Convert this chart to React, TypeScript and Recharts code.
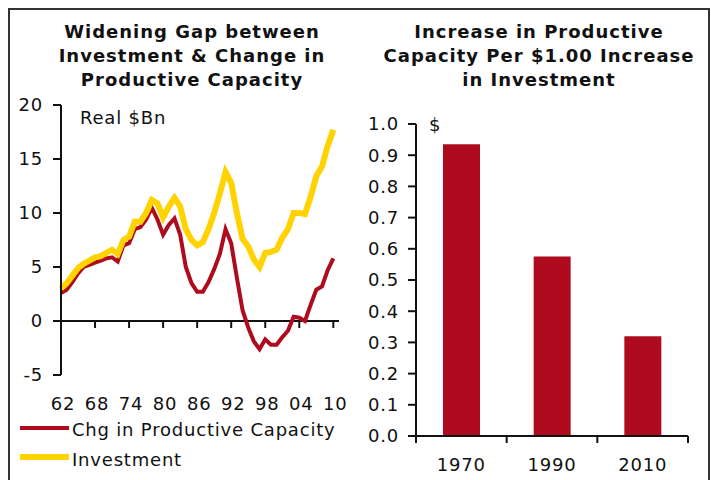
import React from "react";
import {
  LineChart,
  Line,
  BarChart,
  Bar,
  XAxis,
  YAxis,
  ReferenceLine,
} from "recharts";

const years = [
  1962, 1963, 1964, 1965, 1966, 1967, 1968, 1969, 1970, 1971, 1972, 1973,
  1974, 1975, 1976, 1977, 1978, 1979, 1980, 1981, 1982, 1983, 1984, 1985,
  1986, 1987, 1988, 1989, 1990, 1991, 1992, 1993, 1994, 1995, 1996, 1997,
  1998, 1999, 2000, 2001, 2002, 2003, 2004, 2005, 2006, 2007, 2008, 2009,
  2010,
];

const investment = [
  3.0, 3.5, 4.2, 4.9, 5.3, 5.6, 5.9, 6.0, 6.3, 6.6, 6.2, 7.5, 7.8, 9.2, 9.2,
  10.0, 11.2, 10.9, 9.6, 10.6, 11.4, 10.6, 8.5, 7.5, 7.0, 7.3, 8.5, 10.0, 11.8,
  13.8, 12.8, 10.0, 7.6, 6.9, 5.7, 5.0, 6.3, 6.4, 6.6, 7.7, 8.5, 10.0, 10.0,
  9.9, 11.5, 13.4, 14.3, 16.2, 17.7,
];

const capacityChange = [
  2.6, 2.9, 3.6, 4.4, 5.0, 5.2, 5.4, 5.6, 5.8, 5.9, 5.5, 7.0, 7.2, 8.5, 8.7,
  9.4, 10.5, 9.4, 8.0, 8.9, 9.5, 8.0, 5.0, 3.5, 2.7, 2.7, 3.6, 4.8, 6.2, 8.5,
  7.2, 4.0, 1.0, -0.6, -1.9, -2.6, -1.7, -2.2, -2.2, -1.5, -0.9, 0.4, 0.3, 0.0,
  1.5, 2.9, 3.2, 4.7, 5.8,
];

const yearTicks = [1962, 1968, 1974, 1980, 1986, 1992, 1998, 2004, 2010];
const billionTicks = [-5, 0, 5, 10, 15, 20];

const barYears = ["1970", "1990", "2010"];
const capacityPerDollar = [0.935, 0.575, 0.32];
const dollarTicks = [0, 0.1, 0.2, 0.3, 0.4, 0.5, 0.6, 0.7, 0.8, 0.9, 1.0];

const RED = "#AE0C1E";
const YELLOW = "#FFD200";
const FONT = "'DejaVu Sans', Verdana, sans-serif";
const INK = "#111";

const lineData = years.map((year, i) => ({
  year,
  capacity: capacityChange[i],
  investment: investment[i],
}));

const barData = barYears.map((label, i) => ({
  label,
  value: capacityPerDollar[i],
}));

const tickText = { fontSize: 18, fill: INK, fontFamily: FONT, letterSpacing: 0.8 };

// bar chart band width, used for ticks on category edges
const BAR_W = 356;
const BAR_LEFT = 61;
const BAR_RIGHT = 23;
const halfBand = (BAR_W - BAR_LEFT - BAR_RIGHT) / barYears.length / 2;

function EdgeTick(props: any) {
  const { x, y, payload, index } = props;
  return (
    <g>
      <line x1={x - halfBand} y1={y} x2={x - halfBand} y2={y + 7} stroke={INK} strokeWidth={2} />
      {index === barYears.length - 1 && (
        <line x1={x + halfBand} y1={y} x2={x + halfBand} y2={y + 7} stroke={INK} strokeWidth={2} />
      )}
      <text x={x} y={y + 22} dy="0.71em" textAnchor="middle" {...tickText}>
        {payload.value}
      </text>
    </g>
  );
}

const titleStyle: React.CSSProperties = {
  position: "absolute",
  top: 20,
  textAlign: "center",
  fontFamily: FONT,
  fontWeight: "bold",
  fontSize: 18,
  letterSpacing: 1,
  lineHeight: "24px",
  color: INK,
};

export default function App() {
  return (
    <div
      style={{
        position: "absolute",
        left: 0,
        top: 0,
        width: 711,
        height: 480,
        background: "#fff",
        overflow: "hidden",
      }}
    >
      <div
        style={{
          position: "absolute",
          left: 8,
          top: 8,
          width: 698,
          height: 480,
          border: "2px solid #333",
        }}
      />

      <div style={{ ...titleStyle, left: 40, width: 304 }}>
        Widening Gap between
        <br />
        Investment &amp; Change in
        <br />
        Productive Capacity
      </div>
      <div style={{ ...titleStyle, left: 370, width: 338 }}>
        Increase in Productive
        <br />
        Capacity Per $1.00 Increase
        <br />
        in Investment
      </div>

      <div style={{ position: "absolute", left: 0, top: 0 }}>
        <LineChart
          width={360}
          height={480}
          data={lineData}
          margin={{ top: 105, right: 21, left: 0, bottom: 0 }}
        >
          <XAxis
            dataKey="year"
            type="number"
            domain={[1962, 2011]}
            ticks={yearTicks}
            tickFormatter={(v) => String(v).slice(2)}
            axisLine={false}
            tickLine={false}
            tickSize={0}
            tickMargin={22}
            height={105}
            tick={{ ...tickText, dx: 2 }}
            interval={0}
          />
          <YAxis
            type="number"
            domain={[-5, 20]}
            ticks={billionTicks}
            width={61}
            axisLine={{ stroke: INK, strokeWidth: 2 }}
            tickLine={{ stroke: INK, strokeWidth: 2 }}
            tickSize={8}
            tickMargin={10}
            tick={tickText}
            interval={0}
          />
          <ReferenceLine y={0} stroke={INK} strokeWidth={2} />
          {yearTicks.map((yr) => (
            <ReferenceLine
              key={yr}
              segment={[
                { x: yr, y: 0 },
                { x: yr, y: -0.65 },
              ]}
              stroke={INK}
              strokeWidth={2}
            />
          ))}
          <Line
            type="linear"
            dataKey="capacity"
            stroke={RED}
            strokeWidth={4}
            dot={false}
            isAnimationActive={false}
          />
          <Line
            type="linear"
            dataKey="investment"
            stroke={YELLOW}
            strokeWidth={6}
            dot={false}
            isAnimationActive={false}
          />
        </LineChart>
      </div>

      <div style={{ position: "absolute", left: 355, top: 0 }}>
        <BarChart
          width={BAR_W}
          height={480}
          data={barData}
          margin={{ top: 124, right: BAR_RIGHT, left: 0, bottom: 0 }}
        >
          <XAxis
            dataKey="label"
            height={44}
            axisLine={{ stroke: INK, strokeWidth: 2 }}
            tickLine={false}
            tickSize={0}
            tickMargin={0}
            tick={<EdgeTick />}
            interval={0}
          />
          <YAxis
            type="number"
            domain={[0, 1]}
            ticks={dollarTicks}
            tickFormatter={(v) => Number(v).toFixed(1)}
            width={BAR_LEFT}
            axisLine={{ stroke: INK, strokeWidth: 2 }}
            tickLine={{ stroke: INK, strokeWidth: 2 }}
            tickSize={8}
            tickMargin={9}
            tick={tickText}
            interval={0}
          />
          <Bar dataKey="value" fill={RED} barSize={37} isAnimationActive={false} />
        </BarChart>
      </div>

      <svg
        width={711}
        height={480}
        style={{ position: "absolute", left: 0, top: 0, pointerEvents: "none" }}
      >
        <text x={80} y={124} fontSize={18} fill={INK} fontFamily={FONT} letterSpacing={0.8}>
          Real $Bn
        </text>
        <text x={429} y={131} fontSize={18} fill={INK} fontFamily={FONT}>
          $
        </text>
        <line x1={20} y1={428} x2={69} y2={428} stroke={RED} strokeWidth={4} />
        <text x={72} y={436} fontSize={18} fill={INK} fontFamily={FONT} letterSpacing={0.8}>
          Chg in Productive Capacity
        </text>
        <line x1={20} y1={457} x2={69} y2={457} stroke={YELLOW} strokeWidth={6} />
        <text x={72} y={466} fontSize={18} fill={INK} fontFamily={FONT} letterSpacing={0.8}>
          Investment
        </text>
      </svg>
    </div>
  );
}
